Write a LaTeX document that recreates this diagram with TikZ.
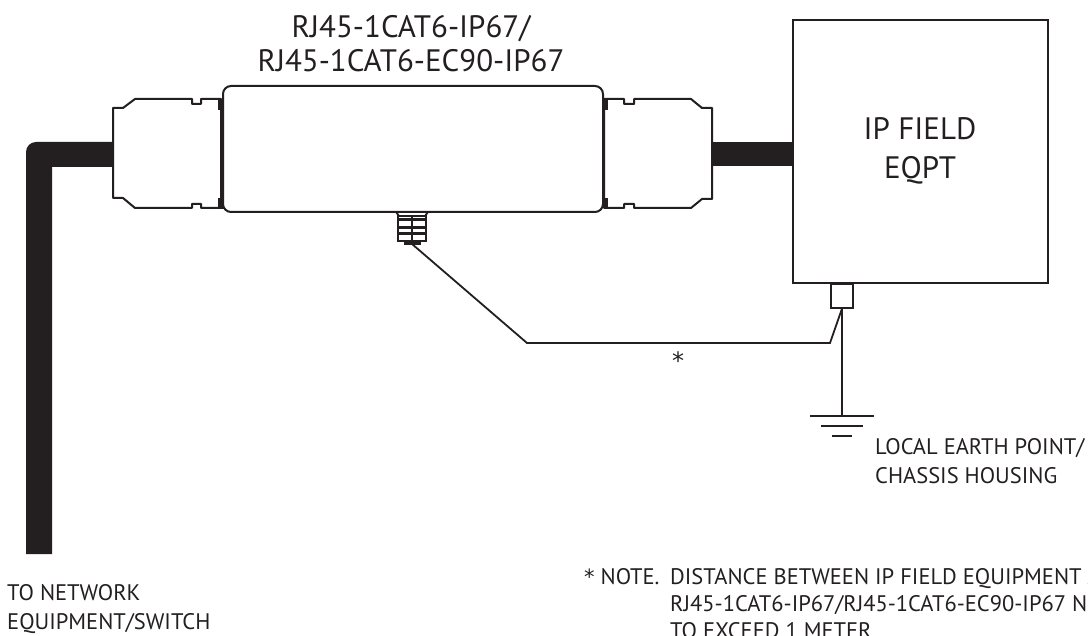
\documentclass[tikz,border=0pt]{standalone}
\usepackage{fontspec}
\setmainfont{PT Sans}
\newfontfamily\starfont{DejaVu Sans}
\definecolor{ink}{HTML}{231F20}
\begin{document}
\begin{tikzpicture}[x=1pt,y=-1pt,
  outline/.style={draw=ink,line width=2pt,line join=round,fill=white},
  wire/.style={draw=ink,line width=1.8pt},
  lbl/.style={inner sep=0pt,text=ink,font=\fontsize{22.5}{26}\selectfont},
  big/.style={inner sep=0pt,text=ink,font=\fontsize{31}{36}\selectfont}]
\useasboundingbox (0,0) rectangle (1088,636);
% left cable
\fill[ink] (52,554) -- (26,554) -- (26,152) arc[start angle=180,end angle=270,radius=10] -- (113,142) -- (113,167) -- (52,167) -- cycle;
% right cable
\fill[ink] (710,142) rectangle (794,166);
% left connector
\draw[outline] (113,108) -- (123,108) -- (135,99) -- (192,99) -- (192,104) -- (201,104) -- (201,99) -- (221,99) -- (221,208) -- (201,208) -- (201,204) -- (192,204) -- (192,208) -- (135,208) -- (123,198) -- (113,198) -- cycle;
% right connector
\draw[outline] (604,99) -- (624,99) -- (624,104) -- (634,104) -- (634,99) -- (691,99) -- (702,108) -- (712,108) -- (712,199) -- (702,199) -- (691,208) -- (634,208) -- (634,204) -- (624,204) -- (624,208) -- (604,208) -- cycle;
% main body
\draw[outline,rounded corners=8pt] (223,86) rectangle (603,212);
\fill[ink] (218,100) rectangle (224,110);
\fill[ink] (218,198) rectangle (224,209);
\fill[ink] (602,99) rectangle (608,110);
\fill[ink] (602,198) rectangle (608,208);
% gland
\draw[ink,line width=1.8pt] (396,212) -- (399,216) (428,212) -- (425,216);
\draw[ink,line width=1.8pt,fill=white] (398,216) rectangle (426,241);
\draw[ink,line width=3pt] (398,220) -- (426,220) (398,227.5) -- (426,227.5) (398,233.5) -- (426,233.5);
\draw[ink,line width=1.8pt] (412,216) -- (412,241);
\fill[ink] (404,240) rectangle (421,245);
\coordinate (gland) at (412,244);
% IP field equipment box
\node[draw=ink,line width=2pt,minimum width=255pt,minimum height=263pt,inner sep=0pt] (eqpt) at (920.5,151.5) {};
\node[big,anchor=base] (ip1) at (920,140) {IP FIELD};
\node[big,anchor=base] (ip2) at (920,179) {EQPT};
% earth lug
\node[draw=ink,line width=1.6pt,fill=white,minimum width=22pt,minimum height=24pt,inner sep=0pt,anchor=north] (lug) at (842,283) {};
\coordinate (bend1) at (527,343);
\coordinate (bend2) at (830,343);
\coordinate (earth) at (842,416);
\draw[wire,line join=miter] (gland) -- (bend1) -- (bend2) -- (lug.south);
\draw[wire] (lug.south) -- (earth);
\draw[wire] (810,416) -- (874,416);
\draw[wire] (821,426) -- (863,426);
\draw[wire] (832,436) -- (852,436);
\node[inner sep=0pt,text=ink,font=\starfont\fontsize{24}{24}\selectfont,anchor=base] (star) at (678,370) {*};
% labels
\node[big,anchor=base] (t1) at (411,38) {RJ45-1CAT6-IP67/};
\node[big,anchor=base] (t2) at (411,72) {RJ45-1CAT6-EC90-IP67};
\node[lbl,anchor=base west] (e1) at (875,455) {LOCAL EARTH POINT/};
\node[lbl,anchor=base west] (e2) at (875,483) {CHASSIS HOUSING};
\node[lbl,anchor=base west] (n1) at (7,600) {TO NETWORK};
\node[lbl,anchor=base west] (n2) at (7,629) {EQUIPMENT/SWITCH};
\node[lbl,anchor=base west] (nt) at (584,584) {{\starfont\fontsize{21}{21}\selectfont*} NOTE.};
\node[lbl,anchor=base west] (d1) at (670,584) {DISTANCE BETWEEN IP FIELD EQUIPMENT AND};
\node[lbl,anchor=base west] (d2) at (670,611) {RJ45-1CAT6-IP67/RJ45-1CAT6-EC90-IP67 NOT};
\node[lbl,anchor=base west] (d3) at (670,638) {TO EXCEED 1 METER};
\end{tikzpicture}
\end{document}
